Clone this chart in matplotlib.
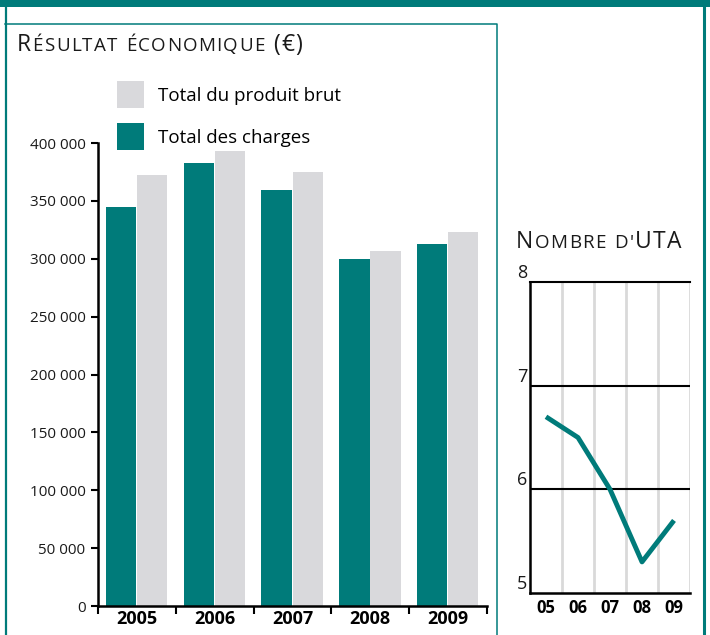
import matplotlib
matplotlib.use("Agg")
import matplotlib.pyplot as plt
from matplotlib.patches import Patch, Rectangle
from matplotlib.lines import Line2D
from matplotlib.offsetbox import TextArea, HPacker, AnchoredOffsetbox
import numpy as np

plt.rcParams['font.family'] = ['Open Sans', 'DejaVu Sans']

TEAL = '#007b7a'
GREY = '#d9d9dc'

# data
years = ['2005', '2006', '2007', '2008', '2009']
charges = [345000, 383000, 359000, 300000, 313000]
produit = [372000, 393000, 375000, 307000, 323000]
ytick_vals = [0, 50000, 100000, 150000, 200000, 250000, 300000, 350000, 400000]
ytick_labels = ['0', '50 000', '100 000', '150 000', '200 000',
                '250 000', '300 000', '350 000', '400 000']

uta_years = ['05', '06', '07', '08', '09']
uta = [6.7, 6.5, 6.0, 5.3, 5.7]
uta_ticks = [5, 6, 7, 8]

W, H = 710, 635
fig = plt.figure(figsize=(W / 100, H / 100), dpi=100)


def fx(px):
    return px / W


def fy(py):
    return 1 - py / H


def small_caps(x, y, text, big, small, track):
    # fake small caps, one box per letter so the letters can be tracked out
    kids = []
    for ch in text:
        size = small if (ch.islower() or ch == "'") else big
        kids.append(TextArea(ch.upper(), textprops=dict(fontsize=size,
                                                        color='#1a1a1a')))
    pack = HPacker(children=kids, align='baseline', pad=0, sep=track)
    box = AnchoredOffsetbox(loc='lower left', child=pack, pad=0, borderpad=0,
                            frameon=False, bbox_to_anchor=(x, y),
                            bbox_transform=fig.transFigure)
    fig.add_artist(box)


# frame lines
fig.add_artist(Rectangle((0, fy(7)), 1, 7 / H, transform=fig.transFigure,
                         color=TEAL, lw=0))
fig.add_artist(Line2D([fx(5.5), fx(5.5)], [0, 1], transform=fig.transFigure,
                      color=TEAL, lw=1.6))
fig.add_artist(Line2D([fx(704), fx(704)], [0, 1], transform=fig.transFigure,
                      color=TEAL, lw=2.2))
fig.add_artist(Line2D([fx(5), fx(497), fx(497)], [fy(24), fy(24), 0],
                      transform=fig.transFigure, color=TEAL, lw=1.1))

# left bar chart
ax = fig.add_axes([fx(98), fy(606), fx(487) - fx(98), (606 - 143) / H])
x = np.arange(len(years))
ax.bar(x + 0.1, charges, width=0.39, align='edge', color=TEAL)
ax.bar(x + 0.5, produit, width=0.39, align='edge', color=GREY)
ax.set_xlim(0, 5)
ax.set_ylim(0, 400000)
for s in ['top', 'right']:
    ax.spines[s].set_visible(False)
for s in ['left', 'bottom']:
    ax.spines[s].set_linewidth(1.8)
ax.set_yticks(ytick_vals)
ax.set_yticklabels(ytick_labels, fontsize=11, color='#1a1a1a')
ax.tick_params(axis='y', length=5, width=1.5, pad=4)
ax.set_xticks(np.arange(6))
ax.set_xticklabels([''] * 6)
ax.tick_params(axis='x', which='major', length=6, width=1.5)
ax.set_xticks(x + 0.5, minor=True)
ax.set_xticklabels(years, minor=True, fontsize=13, fontweight='bold')
ax.tick_params(axis='x', which='minor', length=0, pad=3)

handles = [Patch(facecolor=GREY, edgecolor='none'),
           Patch(facecolor=TEAL, edgecolor='none')]
fig.legend(handles, ['Total du produit brut', 'Total des charges'],
           loc='upper left', bbox_to_anchor=(fx(117), fy(81)), frameon=False,
           fontsize=13.5, handlelength=1.44, handleheight=1.84,
           handletextpad=0.75, labelspacing=0.8, borderpad=0,
           borderaxespad=0)

small_caps(fx(17), fy(57), 'Résultat économique (€)', 16.5, 13.5, 0.95)

# right line chart
ax2 = fig.add_axes([fx(530), fy(593), fx(690) - fx(530), (593 - 282) / H])
for v in range(1, 6):
    ax2.axvline(v, color='#d9d9d9', lw=2, zorder=0)
for v in [6, 7]:
    ax2.axhline(v, color='black', lw=1.5, zorder=1)
ax2.plot(np.arange(5) + 0.5, uta, color=TEAL, lw=3.5, zorder=3,
         solid_capstyle='butt')
ax2.set_xlim(0, 5)
ax2.set_ylim(5, 8)
ax2.spines['right'].set_visible(False)
ax2.spines['top'].set_linewidth(1.5)
for s in ['left', 'bottom']:
    ax2.spines[s].set_linewidth(1.8)
ax2.set_yticks(uta_ticks)
ax2.set_yticklabels([str(t) for t in uta_ticks], fontsize=13, color='#1a1a1a',
                    va='bottom')
ax2.tick_params(axis='y', length=0, pad=2)
ax2.set_xticks(np.arange(5) + 0.5)
ax2.set_xticklabels(uta_years, fontsize=12, fontweight='bold')
ax2.tick_params(axis='x', length=0, pad=4)

small_caps(fx(516), fy(254), "Nombre d'UTA", 16.5, 13.5, 0.95)

fig.savefig('out.png', dpi=100)
